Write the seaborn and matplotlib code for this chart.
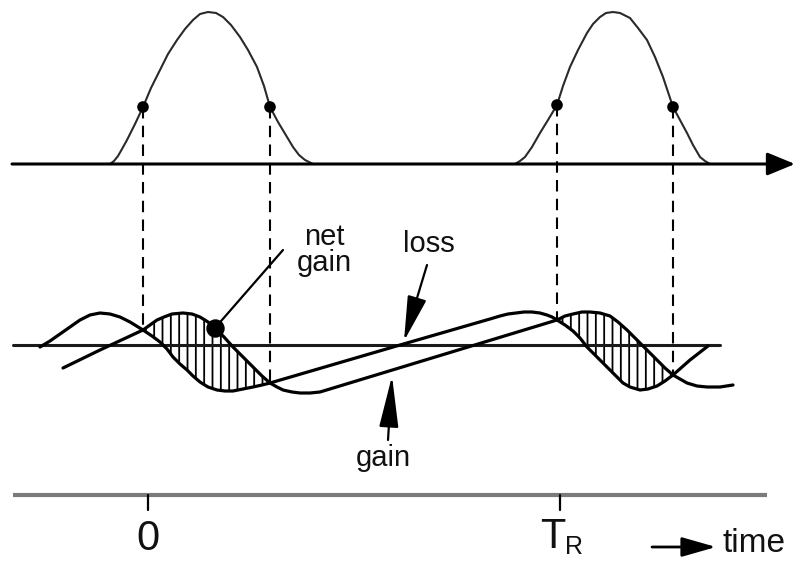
import matplotlib
matplotlib.use("Agg")
import matplotlib.pyplot as plt
import seaborn as sns
import warnings

warnings.filterwarnings("ignore")

# ---- drawing data (time runs left to right, values grow downward) ----
# pulse envelopes for two successive round trips
pulse1_t = [110, 114, 118, 122, 127, 135, 143, 151, 160, 168, 177, 185, 193, 200, 208,
            216, 223, 231, 240, 248, 257, 264, 270, 278, 287, 293, 299, 305, 313]
pulse1_h = [164, 161, 156, 149, 140, 124, 107, 88, 70, 54, 40, 29, 20, 14, 12,
            13, 17, 25, 37, 50, 67, 86, 107, 122, 137, 147, 155, 160, 164]
pulse2_t = [515, 520, 525, 532, 540, 548, 557, 563, 570, 578, 587, 593, 600, 606, 613,
            620, 630, 638, 647, 655, 663, 668, 673, 680, 687, 693, 700, 705, 710]
pulse2_h = [164, 161, 157, 147, 133, 120, 105, 86, 67, 50, 33, 24, 17, 13, 12,
            13, 18, 28, 40, 57, 77, 92, 107, 120, 133, 145, 157, 161, 164]

# edges of the net-gain windows, pulse heights there, and where loss meets gain
window_t = [143, 270, 557, 673]
window_h = [107, 107, 105, 107]
window_cross = [330, 383, 320, 375]

# saturable loss
loss_t = [40, 50, 60, 70, 80, 90, 100, 110, 120, 130, 143, 152, 160, 167, 173, 180,
          187, 193, 200, 208, 217, 225, 233, 243, 253, 262, 270, 400, 490, 500, 508,
          516, 524, 532, 540, 547, 552, 557, 565, 573, 580, 587, 597, 607, 615, 623,
          630, 640, 648, 657, 665, 673, 690, 708]
loss_v = [347, 341, 334, 327, 320, 315, 313, 314, 317, 322, 330, 336, 342, 349, 357, 364,
          370, 376, 382, 387, 390, 391, 391, 389, 387, 385, 383, 345, 319, 316, 314,
          313, 312, 312, 313, 315, 317, 320, 325, 331, 338, 347, 357, 367, 375, 383,
          387, 390, 389, 386, 381, 375, 360, 346]

# saturated gain
gain_t = [63, 100, 143, 150, 157, 164, 172, 183, 192, 200, 208, 215, 224, 233, 243,
          253, 262, 270, 277, 283, 292, 300, 310, 320, 557, 565, 573, 582, 590, 600,
          610, 618, 627, 633, 640, 648, 657, 665, 673, 680, 687, 697, 707, 720, 733]
gain_v = [368, 350, 330, 325, 320, 317, 314, 313, 314, 317, 322, 328, 337, 347, 357,
          367, 376, 383, 387, 390, 392, 393, 393, 392, 320, 316, 314, 312, 312, 313,
          316, 322, 330, 336, 343, 351, 360, 368, 375, 379, 383, 386, 387, 387, 385]

net_gain_dot = (215, 328)
tick_t = [148, 560]
tick_labels = ["0", "T"]

sns.set_theme(style="white")
plt.rcParams["hatch.linewidth"] = 1.3
FONT = ["Liberation Sans Narrow", "Liberation Sans", "DejaVu Sans"]
INK = "#111111"

fig = plt.figure(figsize=(7.95, 5.62), dpi=100)
ax = fig.add_axes([0, 0, 1, 1])
ax.set_xlim(0, 795)
ax.set_ylim(562, 0)
ax.axis("off")

# ---- upper panel: pulses on the time axis ----
ax.annotate("", xy=(795, 164), xytext=(12, 164),
            arrowprops=dict(arrowstyle="-|>,head_length=0.85,head_width=0.35",
                            mutation_scale=20, lw=2.2, color="black",
                            shrinkA=0, shrinkB=0))
sns.lineplot(x=pulse1_t, y=pulse1_h, ax=ax, color="#2a2a2a", lw=1.5,
             sort=False, estimator=None)
sns.lineplot(x=pulse2_t, y=pulse2_h, ax=ax, color="#2a2a2a", lw=1.5,
             sort=False, estimator=None)
sns.scatterplot(x=window_t, y=window_h, ax=ax, color="black", s=70,
                edgecolor="none", zorder=5)

# dashed drop lines from the pulse wings to the gain/loss crossings
for t, h, c in zip(window_t, window_h, window_cross):
    ax.plot([t, t], [h, c], color="black", lw=1.5, dashes=(5.5, 3.5))

# ---- middle panel: gain and loss dynamics ----
ax.plot([13, 720], [345, 345], color="#1a1a1a", lw=2.2)


def window_polygon(t0, t1):
    top = [(t, v) for t, v in zip(gain_t, gain_v) if t0 <= t <= t1]
    bottom = [(t, v) for t, v in zip(loss_t, loss_v) if t0 <= t <= t1][::-1]
    return top + bottom


for t0, t1 in [(window_t[0], window_t[1]), (window_t[2], window_t[3])]:
    poly = window_polygon(t0, t1)
    ax.fill([p[0] for p in poly], [p[1] for p in poly], facecolor="none",
            edgecolor="black", hatch="||", lw=0)

sns.lineplot(x=loss_t, y=loss_v, ax=ax, color="black", lw=2.3,
             sort=False, estimator=None)
sns.lineplot(x=gain_t, y=gain_v, ax=ax, color="black", lw=2.3,
             sort=False, estimator=None)

# net gain pointer
ax.plot([283, net_gain_dot[0]], [250, net_gain_dot[1]], color="black", lw=1.6)
ax.scatter([net_gain_dot[0]], [net_gain_dot[1]], s=150, color="black", zorder=6)
ax.text(324, 250, "net\ngain", ha="center", va="center", fontsize=21,
        family=FONT, color=INK, linespacing=0.95)

# loss and gain pointers
ax.annotate("", xy=(404, 341), xytext=(427, 265),
            arrowprops=dict(arrowstyle="-|>,head_length=1.4,head_width=0.3",
                            mutation_scale=20, lw=1.6, color="black",
                            shrinkA=0, shrinkB=0))
ax.text(429, 244, "loss", ha="center", va="center", fontsize=21,
        family=FONT, color=INK)
ax.annotate("", xy=(392, 376), xytext=(388, 440),
            arrowprops=dict(arrowstyle="-|>,head_length=1.6,head_width=0.3",
                            mutation_scale=20, lw=1.6, color="black",
                            shrinkA=0, shrinkB=0))
ax.text(383, 458, "gain", ha="center", va="center", fontsize=21,
        family=FONT, color=INK)

# ---- lower time axis ----
ax.plot([13, 767], [495, 495], color="#7a7a7a", lw=3.0, solid_capstyle="butt")
for t in tick_t:
    ax.plot([t, t], [495, 510], color="black", lw=1.6)
ax.text(tick_t[0], 539, tick_labels[0], ha="center", va="center", fontsize=30,
        family=FONT, color=INK)
ax.text(tick_t[1] - 7, 537, tick_labels[1], ha="center", va="center", fontsize=30,
        family=FONT, color=INK)
ax.text(tick_t[1] + 14, 547, "R", ha="center", va="center", fontsize=18,
        family=FONT, color=INK)

ax.annotate("", xy=(716, 547), xytext=(652, 547),
            arrowprops=dict(arrowstyle="-|>,head_length=1.05,head_width=0.3",
                            mutation_scale=20, lw=2.0, color="black",
                            shrinkA=0, shrinkB=0))
ax.text(754, 543, "time", ha="center", va="center", fontsize=24,
        family=FONT, color=INK)

fig.savefig("out.png", dpi=100)
